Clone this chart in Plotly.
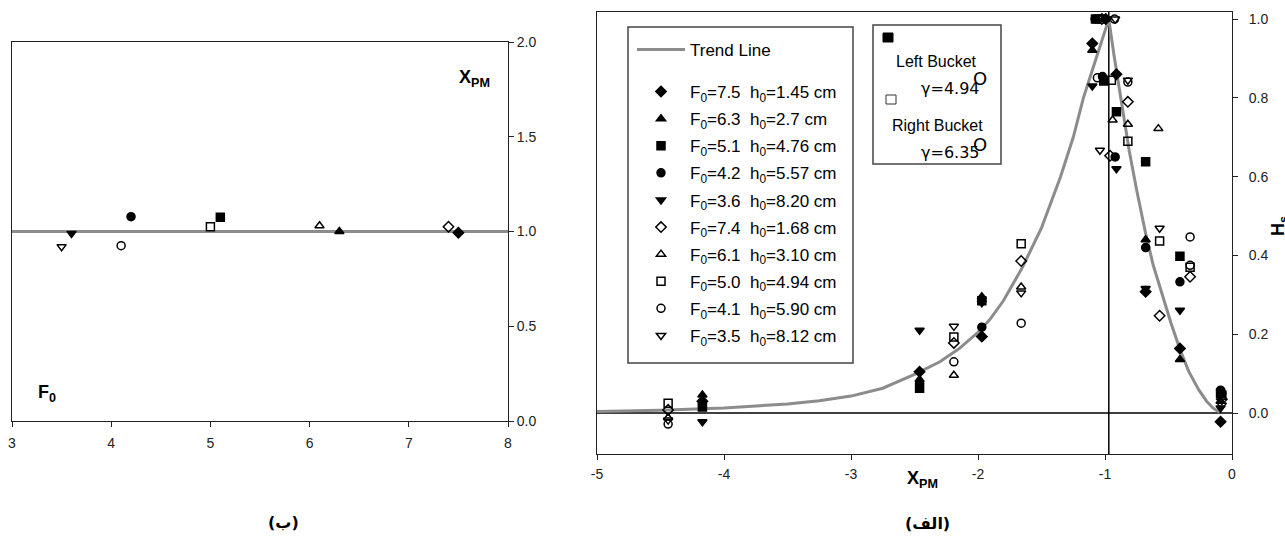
import plotly.graph_objects as go

# ---------------- data ----------------
series_names = [
    "F<sub>0</sub>=7.5\u00a0\u00a0h<sub>0</sub>=1.45 cm",
    "F<sub>0</sub>=6.3\u00a0\u00a0h<sub>0</sub>=2.7 cm",
    "F<sub>0</sub>=5.1\u00a0\u00a0h<sub>0</sub>=4.76 cm",
    "F<sub>0</sub>=4.2\u00a0\u00a0h<sub>0</sub>=5.57 cm",
    "F<sub>0</sub>=3.6\u00a0\u00a0h<sub>0</sub>=8.20 cm",
    "F<sub>0</sub>=7.4\u00a0\u00a0h<sub>0</sub>=1.68 cm",
    "F<sub>0</sub>=6.1\u00a0\u00a0h<sub>0</sub>=3.10 cm",
    "F<sub>0</sub>=5.0\u00a0\u00a0h<sub>0</sub>=4.94 cm",
    "F<sub>0</sub>=4.1\u00a0\u00a0h<sub>0</sub>=5.90 cm",
    "F<sub>0</sub>=3.5\u00a0\u00a0h<sub>0</sub>=8.12 cm",
]
series_symbols = ["diamond", "triangle-up", "square", "circle", "triangle-down",
                  "diamond-open", "triangle-up-open", "square-open", "circle-open",
                  "triangle-down-open"]

# left panel (b): F0 vs X_PM
F0_values = [7.5, 6.3, 5.1, 4.2, 3.6, 7.4, 6.1, 5.0, 4.1, 3.5]
xpm_values = [0.994, 1.0, 1.075, 1.078, 0.99, 1.025, 1.03, 1.025, 0.925, 0.92]
left_trend_x = [3, 8]
left_trend_y = [1.0, 1.0]

# right panel (a): X_PM vs H
s1_x = [-4.17, -2.46, -1.97, -1.10, -0.994, -0.91, -0.68, -0.41, -0.09]
s1_y = [0.03, 0.105, 0.194, 0.938, 1.0, 0.86, 0.308, 0.164, -0.022]
s2_x = [-4.17, -2.46, -1.97, -1.10, -1.0, -0.68, -0.41, -0.09]
s2_y = [0.046, 0.085, 0.295, 0.921, 1.0, 0.44, 0.136, 0.03]
s3_x = [-4.17, -2.46, -1.97, -1.075, -1.01, -0.91, -0.68, -0.41, -0.09]
s3_y = [0.015, 0.063, 0.285, 1.0, 0.843, 0.765, 0.638, 0.398, 0.05]
s4_x = [-4.17, -2.46, -1.97, -1.078, -1.02, -0.92, -0.68, -0.41, -0.09]
s4_y = [0.02, 0.075, 0.218, 1.0, 0.854, 0.65, 0.42, 0.333, 0.058]
s5_x = [-4.17, -2.46, -1.97, -1.10, -0.99, -0.91, -0.68, -0.41, -0.09]
s5_y = [-0.022, 0.21, 0.28, 0.83, 1.0, 0.62, 0.316, 0.261, 0.013]
s6_x = [-4.44, -2.19, -1.66, -1.025, -0.96, -0.82, -0.57, -0.33, -0.08]
s6_y = [0.008, 0.178, 0.386, 1.0, 0.653, 0.79, 0.247, 0.346, 0.035]
s7_x = [-4.44, -2.19, -1.66, -1.03, -0.94, -0.82, -0.58, -0.08]
s7_y = [-0.012, 0.096, 0.32, 1.0, 0.744, 0.733, 0.722, 0.04]
s8_x = [-4.44, -2.19, -1.66, -1.025, -0.95, -0.82, -0.57, -0.33, -0.08]
s8_y = [0.025, 0.193, 0.43, 1.0, 0.845, 0.69, 0.437, 0.37, 0.045]
s9_x = [-4.44, -2.19, -1.66, -1.06, -0.925, -0.82, -0.33, -0.33, -0.08]
s9_y = [-0.028, 0.13, 0.228, 0.851, 1.0, 0.84, 0.447, 0.375, 0.05]
s10_x = [-4.44, -2.19, -1.66, -1.04, -0.92, -0.82, -0.57, -0.08]
s10_y = [-0.018, 0.22, 0.305, 0.667, 1.0, 0.845, 0.469, 0.02]
series_x = [s1_x, s2_x, s3_x, s4_x, s5_x, s6_x, s7_x, s8_x, s9_x, s10_x]
series_y = [s1_y, s2_y, s3_y, s4_y, s5_y, s6_y, s7_y, s8_y, s9_y, s10_y]

trend_x = [-5, -4.5, -4, -3.5, -3.25, -3, -2.75, -2.5, -2.3, -2.15, -2.0, -1.91, -1.8,
           -1.65, -1.5, -1.35, -1.25, -1.17, -1.1, -1.03, -0.97, -0.93, -0.89, -0.85,
           -0.81, -0.75, -0.68, -0.62, -0.55, -0.48, -0.41, -0.34, -0.26, -0.2, -0.15, -0.1]
trend_y = [0.004, 0.007, 0.013, 0.023, 0.031, 0.043, 0.063, 0.098, 0.13, 0.163, 0.205, 0.236, 0.285,
           0.37, 0.47, 0.60, 0.70, 0.80, 0.87, 0.94, 1.0, 0.91, 0.825, 0.745,
           0.667, 0.565, 0.456, 0.375, 0.30, 0.228, 0.162, 0.105, 0.058, 0.03, 0.013, 0.002]

hline_x = [-5, 0]
hline_y = [0, 0]
peak_x = -0.97
vline_y = [-0.104, 1.018]

left_xticks = [3, 4, 5, 6, 7, 8]
left_yticks = [0.0, 0.5, 1.0, 1.5, 2.0]
right_xticks = [-5, -4, -3, -2, -1, 0]
right_xticktext = ["-5", "-4", "-3", "-2", "-1", "0"]
right_yticks = [0.0, 0.2, 0.4, 0.6, 0.8, 1.0]

W, H = 1285, 536
FONT = "Liberation Sans, Arial, DejaVu Sans, sans-serif"

def px_x(p):
    return p / W

def px_y(p):
    return 1 - p / H

fig = go.Figure()

# left panel
fig.add_trace(go.Scatter(x=left_trend_x, y=left_trend_y, mode="lines",
                         line=dict(color="#8c8c8c", width=3), showlegend=False,
                         xaxis="x", yaxis="y"))
for i in range(10):
    fig.add_trace(go.Scatter(x=[F0_values[i]], y=[xpm_values[i]], mode="markers",
                             marker=dict(symbol=series_symbols[i], size=8, color="black",
                                         line=dict(color="black", width=1.5)),
                             showlegend=False, xaxis="x", yaxis="y"))

# right panel reference lines
fig.add_trace(go.Scatter(x=hline_x, y=hline_y, mode="lines",
                         line=dict(color="black", width=1.5), showlegend=False,
                         xaxis="x2", yaxis="y2"))
fig.add_trace(go.Scatter(x=[peak_x, peak_x], y=vline_y, mode="lines",
                         line=dict(color="black", width=1.5), showlegend=False,
                         xaxis="x2", yaxis="y2"))
fig.add_trace(go.Scatter(x=trend_x, y=trend_y, mode="lines", name="Trend Line",
                         line=dict(color="#8c8c8c", width=3),
                         legend="legend", xaxis="x2", yaxis="y2"))
for i in range(10):
    fig.add_trace(go.Scatter(x=series_x[i], y=series_y[i], mode="markers",
                             name=series_names[i], legendgroup="g%d" % i,
                             marker=dict(symbol=series_symbols[i], size=8, color="black",
                                         line=dict(color="black", width=1.5)),
                             legend="legend2", xaxis="x2", yaxis="y2"))

def axis_common(standoff):
    return dict(showgrid=False, zeroline=False, showline=True, linecolor="#222",
                linewidth=1, mirror=True, ticks="outside", ticklen=5,
                tickcolor="#222", ticklabelstandoff=standoff,
                tickfont=dict(family=FONT, size=14, color="#222"))

fig.update_layout(
    width=W, height=H,
    margin=dict(l=0, r=0, t=0, b=0, autoexpand=False),
    paper_bgcolor="white", plot_bgcolor="white",
    font=dict(family=FONT, color="black"),
    xaxis=dict(domain=[px_x(12), px_x(508)], range=[3, 8], tickvals=left_xticks,
               anchor="y", **axis_common(4)),
    yaxis=dict(domain=[px_y(421), px_y(42)], range=[0, 2], tickvals=left_yticks,
               tickformat=".1f", side="right", anchor="x", **axis_common(0)),
    xaxis2=dict(domain=[px_x(597), px_x(1232)], range=[-5, 0], tickvals=right_xticks,
                ticktext=right_xticktext, anchor="y2", **axis_common(2)),
    yaxis2=dict(domain=[px_y(454), px_y(12)], range=[-0.104, 1.018], tickvals=right_yticks,
                tickformat=".1f", side="right", anchor="x2", **axis_common(8)),
    legend=dict(x=px_x(632), y=px_y(32), xanchor="left", yanchor="top",
                bgcolor="rgba(0,0,0,0)", borderwidth=0, itemwidth=48,
                font=dict(family=FONT, size=17, color="black")),
    legend2=dict(x=px_x(632), y=px_y(74), xanchor="left", yanchor="top",
                 bgcolor="rgba(0,0,0,0)", borderwidth=0, itemwidth=48,
                 tracegroupgap=2,
                 font=dict(family=FONT, size=17, color="black")),
    showlegend=True,
)

# legend frames
fig.add_shape(type="rect", xref="paper", yref="paper", x0=px_x(628), x1=px_x(853),
              y0=px_y(363), y1=px_y(27), line=dict(color="#444", width=1.5))
fig.add_shape(type="rect", xref="paper", yref="paper", x0=px_x(873), x1=px_x(1001),
              y0=px_y(164), y1=px_y(25), line=dict(color="#444", width=1.5))
# bucket key squares
fig.add_shape(type="rect", xref="paper", yref="paper", x0=px_x(883), x1=px_x(893),
              y0=px_y(42), y1=px_y(33), line=dict(color="black", width=1), fillcolor="black")
fig.add_shape(type="rect", xref="paper", yref="paper", x0=px_x(886), x1=px_x(896),
              y0=px_y(104), y1=px_y(95), line=dict(color="#333", width=1),
              fillcolor="white")

ann = []
def A(text, x, y, size=15, bold=False, fam=FONT, xanchor="center", textangle=0):
    ann.append(dict(text=("<b>%s</b>" % text) if bold else text, x=px_x(x), y=px_y(y),
                    xref="paper", yref="paper", showarrow=False, xanchor=xanchor,
                    yanchor="middle", textangle=textangle,
                    font=dict(family=fam, size=size, color="black")))

# bucket box
A("Left Bucket", 936, 61, size=16)
A("\u03b3=4.94", 950, 88, size=16, fam="DejaVu Sans, sans-serif")
A("O", 980, 79, size=18, fam="DejaVu Sans, sans-serif")
A("Right Bucket", 937, 126, size=16)
A("\u03b3=6.35", 950, 153, size=16, fam="DejaVu Sans, sans-serif")
A("O", 980, 144, size=18, fam="DejaVu Sans, sans-serif")

# axis labels
A("X<sub>PM</sub>", 922, 479, size=18, bold=True)
A("X<sub>PM</sub>", 474, 79, size=18, bold=True)
A("F<sub>0</sub>", 47, 393, size=18, bold=True)
A("H<sub>s</sub>", 1280, 226, size=18, bold=True, textangle=-90)
A("(\u0628)", 283, 522, size=16, bold=True, fam="DejaVu Sans, sans-serif")
A("(\u0627\u0644\u0641)", 927, 523, size=16, bold=True, fam="DejaVu Sans, sans-serif")

fig.update_layout(annotations=ann)
fig.write_html("out.html")
